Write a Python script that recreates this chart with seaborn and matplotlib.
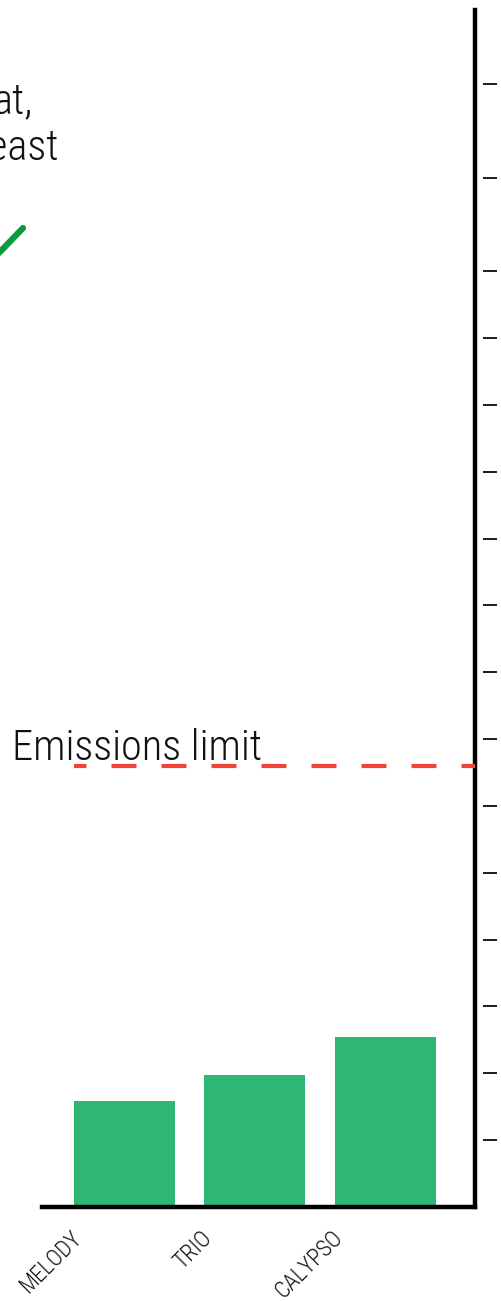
import matplotlib
matplotlib.use('Agg')
import matplotlib.pyplot as plt
import matplotlib.transforms as mtransforms
from matplotlib import font_manager
from matplotlib.lines import Line2D
import seaborn as sns
import pandas as pd

# ---- data ----
categories = ["MELODY", "TRIO", "CALYPSO"]
values = [1.58, 1.97, 2.54]
limit_value = 6.60
limit_label = "Emissions limit"
y_ticks = [1, 2, 3, 4, 5, 6, 7, 8, 9, 10, 11, 12, 13, 14, 15.4, 16.8]
y_max = 17.91
note_lines = ["at,", "east"]

# ---- style ----
sns.set_theme(style="white")
avail = {f.name for f in font_manager.fontManager.ttflist}
family = next((f for f in ["Liberation Sans Narrow", "Roboto Condensed",
                           "DejaVu Sans Condensed", "Roboto"] if f in avail),
              "DejaVu Sans")
plt.rcParams["font.family"] = [family, "DejaVu Sans"]
plt.rcParams["lines.scale_dashes"] = False

W, H = 501, 1301
fig = plt.figure(figsize=(W / 100, H / 100), dpi=100)
ax = fig.add_axes([42 / W, (H - 1206.8) / H, 433 / W, 1196.8 / H])

df = pd.DataFrame({"model": categories, "value": values})
bar_w = 0.774
sns.barplot(data=df, x="model", y="value", color="#2db674", saturation=1,
            width=bar_w, linewidth=0, ax=ax)

xlim = (-0.632, 2.686)
ax.set_xlim(*xlim)
ax.set_ylim(0, y_max)
ax.set_xlabel("")
ax.set_ylabel("")

# spines
ax.spines["top"].set_visible(False)
ax.spines["left"].set_position(("axes", 1.0))
ax.spines["left"].set_linewidth(3.2)
ax.spines["left"].set_color("black")
ax.spines["bottom"].set_linewidth(3.2)
ax.spines["bottom"].set_color("black")
ax.spines["right"].set_position(("outward", 6))
ax.spines["right"].set_visible(False)

ax.set_yticks(y_ticks)
ax.yaxis.set_ticks_position("right")
ax.tick_params(axis="y", direction="out", length=10, width=1.44, color="#222222",
               labelright=False, labelleft=False, left=False, right=True)

ax.tick_params(axis="x", length=0, pad=14, labelsize=16.5, labelcolor="#111111")
offset = mtransforms.ScaledTranslation(-38 / 100, 0, fig.dpi_scale_trans)
for lab in ax.get_xticklabels():
    lab.set_rotation(45)
    lab.set_ha("right")
    lab.set_fontweight("light")
    lab.set_transform(lab.get_transform() + offset)

# emissions limit dashed line
x_start = 0 - bar_w / 2
xmin_frac = (x_start - xlim[0]) / (xlim[1] - xlim[0])
ax.axhline(limit_value, xmin=xmin_frac, xmax=1, color="#f44336", lw=3,
           linestyle=(9, (18, 18)), zorder=3)

fig.text(12 / W, (H - 760) / H, limit_label, fontsize=30.5, color="#111111",
         ha="left", va="baseline", fontweight="light")

# partially visible annotation at top-left
fig.text(33 / W, (H - 113) / H, note_lines[0], fontsize=30.5, color="#111111",
         ha="right", va="baseline", fontweight="light")
fig.text(58 / W, (H - 160) / H, note_lines[1], fontsize=30.5, color="#111111",
         ha="right", va="baseline", fontweight="light")
fig.add_artist(Line2D([-3 / W, 23 / W], [(H - 255) / H, (H - 228) / H],
                      transform=fig.transFigure, color="#0a9a40", lw=4.5,
                      solid_capstyle="round"))

fig.savefig("out.png", dpi=100)
